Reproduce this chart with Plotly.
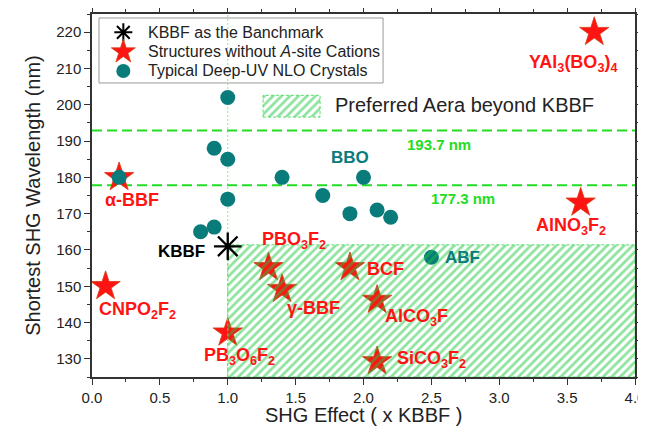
import plotly.graph_objects as go

# ---------------- data ----------------
KBBF_X = [1.0]
KBBF_Y = [161.0]

STAR_NAMES = ["α-BBF", "CNPO<sub>2</sub>F<sub>2</sub>", "PB<sub>3</sub>O<sub>6</sub>F<sub>2</sub>",
              "PBO<sub>3</sub>F<sub>2</sub>", "γ-BBF", "BCF", "AlCO<sub>3</sub>F",
              "SiCO<sub>3</sub>F<sub>2</sub>", "AlNO<sub>3</sub>F<sub>2</sub>",
              "YAl<sub>3</sub>(BO<sub>3</sub>)<sub>4</sub>"]
STAR_X = [0.2, 0.1, 1.0, 1.3, 1.4, 1.9, 2.1, 2.1, 3.6, 3.7]
STAR_Y = [180, 150, 137.2, 155.2, 149.2, 155.2, 146.2, 129.3, 173, 220]

CIRCLE_X = [0.2, 0.8, 0.9, 0.9, 1.0, 1.0, 1.0, 1.4, 1.7, 1.9, 2.0, 2.1, 2.2, 2.5]
CIRCLE_Y = [180, 165, 166.3, 188, 174, 185, 202, 180, 175, 170, 180, 171, 169, 158]

CIRCLE_LABELS = ["BBO", "ABF"]
CIRCLE_LABEL_X = [2.0, 2.5]
CIRCLE_LABEL_Y = [180, 158]

CUTOFF_Y = [192.9, 177.8]
CUTOFF_TEXT = ["193.7 nm", "177.3 nm"]

PREF_X = [1.0, 4.0]
PREF_Y = [125, 161.4]

X_RANGE = [0, 4]
Y_RANGE = [125, 225]
X_TICKS = [0.0, 0.5, 1.0, 1.5, 2.0, 2.5, 3.0, 3.5, 4.0]
Y_TICKS = [130, 140, 150, 160, 170, 180, 190, 200, 210, 220]

LEGEND_NAMES = ["KBBF as the Banchmark", "Structures without <i>A</i>-site Cations",
                "Typical Deep-UV NLO Crystals"]
AREA_NAME = "Preferred Aera beyond KBBF"
X_TITLE = "SHG Effect ( x KBBF )"
Y_TITLE = "Shortest SHG Wavelength (nm)"

# ---------------- styles ----------------
RED = "#ff1414"
TEAL = "#0a7b7b"
GREEN = "#22dd22"
HATCH = "#19c83c"
FONT = "Liberation Sans, Arial, sans-serif"

# label offsets (pixels) for each star label: (xshift, yshift)
STAR_LABEL_OFFS = [(-16, -23), (-9, -24), (-26, -24), (-8, 27), (3, -19), (15, -2),
                   (6, -17), (18, 2), (-47, -24), (-67, -31)]
CIRCLE_LABEL_OFFS = [(-35, 20), (12, 0)]

STAR_MARKER = dict(symbol="star", color=RED, line=dict(color="#d83a10", width=0.8))
CIRCLE_MARKER = dict(symbol="circle", color=TEAL, line=dict(width=0))
AST_MARKER = dict(symbol="asterisk-open", color="black")

fig = go.Figure()

# red stars (drawn first: behind circles and hatch)
fig.add_trace(go.Scatter(x=STAR_X, y=STAR_Y, mode="markers", name=LEGEND_NAMES[1],
                         marker=dict(size=22, **STAR_MARKER)))

# teal circles
fig.add_trace(go.Scatter(x=CIRCLE_X, y=CIRCLE_Y, mode="markers", name=LEGEND_NAMES[2],
                         marker=dict(size=15, **CIRCLE_MARKER)))

hatch = dict(shape="/", fgcolor=HATCH, bgcolor="rgba(0,0,0,0)", size=6, solidity=0.45)
hatch_line = dict(color="#55dd6a", width=1, dash="3px,2px")

# hatched preferred area
fig.add_trace(go.Scatter(
    x=[PREF_X[0], PREF_X[1], PREF_X[1], PREF_X[0], PREF_X[0]],
    y=[PREF_Y[0], PREF_Y[0], PREF_Y[1], PREF_Y[1], PREF_Y[0]],
    mode="lines", fill="toself", fillcolor="rgba(0,0,0,0)", fillpattern=hatch,
    line=hatch_line, name=AREA_NAME, hoverinfo="skip"))

# KBBF asterisk
fig.add_trace(go.Scatter(x=KBBF_X, y=KBBF_Y, mode="markers", name=LEGEND_NAMES[0],
                         marker=dict(size=23, line=dict(color="black", width=2.3), **AST_MARKER)))

# ---------------- hand-built legend (overlay axes in plot-fraction units) ----------------
LEG_BOX = dict(x0=0.0129, x1=0.536, y0=0.810, y1=0.989)
LEG_SYM_X = 0.0577
LEG_TEXT_X = 0.0994
LEG_ROWS_Y = [0.9496, 0.896, 0.843]
leg_markers = [dict(size=15, line=dict(color="black", width=2), **AST_MARKER),
               dict(size=18, **STAR_MARKER),
               dict(size=14, **CIRCLE_MARKER)]
for mk, ry in zip(leg_markers, LEG_ROWS_Y):
    fig.add_trace(go.Scatter(x=[LEG_SYM_X], y=[ry], xaxis="x2", yaxis="y2", mode="markers",
                             marker=mk, hoverinfo="skip"))

# swatch for the preferred area
SWATCH = dict(x0=0.315, x1=0.42, y0=0.716, y1=0.776)
fig.add_trace(go.Scatter(
    x=[SWATCH["x0"], SWATCH["x1"], SWATCH["x1"], SWATCH["x0"], SWATCH["x0"]],
    y=[SWATCH["y0"], SWATCH["y0"], SWATCH["y1"], SWATCH["y1"], SWATCH["y0"]],
    xaxis="x2", yaxis="y2", mode="lines", fill="toself", fillcolor="rgba(0,0,0,0)",
    fillpattern=hatch, line=hatch_line, hoverinfo="skip"))

fig.add_shape(type="rect", xref="paper", yref="paper", **LEG_BOX,
              line=dict(color="#999", width=1), fillcolor="rgba(0,0,0,0)", layer="below")

# vertical dotted benchmark line and horizontal dashed cutoff lines
fig.add_shape(type="line", xref="x", yref="paper", x0=KBBF_X[0], x1=KBBF_X[0], y0=0, y1=1,
              line=dict(color="#88ee88", width=1, dash="2px,2px"), layer="below")
for yv in CUTOFF_Y:
    fig.add_shape(type="line", xref="paper", yref="y", x0=0, x1=1, y0=yv, y1=yv,
                  line=dict(color=GREEN, width=2, dash="10px,5px"), layer="below")

annotations = []
for name, ry in zip(LEGEND_NAMES, LEG_ROWS_Y):
    annotations.append(dict(x=LEG_TEXT_X, xref="paper", y=ry, yref="paper", xanchor="left",
                            yanchor="middle", text=name, showarrow=False,
                            font=dict(size=16, color="#222", family=FONT)))

cut_x = [0.639, 0.683]
cut_shift = [-14, -13]
for t, yv, cx, cs in zip(CUTOFF_TEXT, CUTOFF_Y, cut_x, cut_shift):
    annotations.append(dict(x=cx, xref="paper", y=yv, yref="y", yshift=cs, text=f"<b>{t}</b>",
                            xanchor="center", yanchor="middle", showarrow=False,
                            font=dict(size=15, color=GREEN, family=FONT)))

for name, xv, yv, (dx, dy) in zip(STAR_NAMES, STAR_X, STAR_Y, STAR_LABEL_OFFS):
    annotations.append(dict(x=xv, y=yv, xshift=dx, yshift=dy, xanchor="left", yanchor="middle",
                            text=f"<b>{name}</b>", showarrow=False,
                            font=dict(size=18, color=RED, family=FONT)))

for name, xv, yv, (dx, dy) in zip(CIRCLE_LABELS, CIRCLE_LABEL_X, CIRCLE_LABEL_Y, CIRCLE_LABEL_OFFS):
    annotations.append(dict(x=xv, y=yv, xshift=dx, yshift=dy, xanchor="left", yanchor="middle",
                            text=f"<b>{name}</b>", showarrow=False,
                            font=dict(size=17, color=TEAL, family=FONT)))

annotations.append(dict(x=KBBF_X[0], y=KBBF_Y[0], xshift=-21, yshift=-5, xanchor="right",
                        yanchor="middle", text="<b>KBBF</b>", showarrow=False,
                        font=dict(size=17, color="black", family=FONT)))

annotations.append(dict(x=0.444, xref="paper", y=0.748, yref="paper", xanchor="left",
                        yanchor="middle", text=AREA_NAME, showarrow=False,
                        font=dict(size=20, color="#222", family=FONT)))

# x-axis title placed as an annotation below the tick labels
annotations.append(dict(x=0.5, xref="paper", y=0, yref="paper", yshift=-38,
                        xanchor="center", yanchor="middle", text=X_TITLE, showarrow=False,
                        font=dict(size=20, color="#222", family=FONT)))

axis_common = dict(showline=True, linecolor="#333", linewidth=1.5, mirror="ticks",
                   ticks="outside", ticklen=6, tickwidth=1.2, tickcolor="#333",
                   showgrid=False, zeroline=False, automargin=False,
                   tickfont=dict(size=15, color="#222", family=FONT))

# the page body has an 8px default margin, so the figure is 638x425 to fill 646x433
fig.update_layout(
    width=638, height=425,
    margin=dict(l=84, r=11, t=6, b=56),
    paper_bgcolor="white", plot_bgcolor="white",
    font=dict(family=FONT, color="#222"),
    xaxis=dict(range=X_RANGE, tickvals=X_TICKS, ticktext=[f"{v:.1f}" for v in X_TICKS],
               minor=dict(ticks="outside", ticklen=3, tickcolor="#333", dtick=0.25),
               **axis_common),
    yaxis=dict(range=Y_RANGE, tickvals=Y_TICKS,
               title=dict(text=Y_TITLE, font=dict(size=20, family=FONT), standoff=10),
               minor=dict(ticks="outside", ticklen=3, tickcolor="#333", dtick=5),
               **axis_common),
    xaxis2=dict(overlaying="x", range=[0, 1], visible=False, automargin=False),
    yaxis2=dict(overlaying="y", range=[0, 1], visible=False, automargin=False),
    annotations=annotations,
    showlegend=False,
)

fig.write_html("out.html")
